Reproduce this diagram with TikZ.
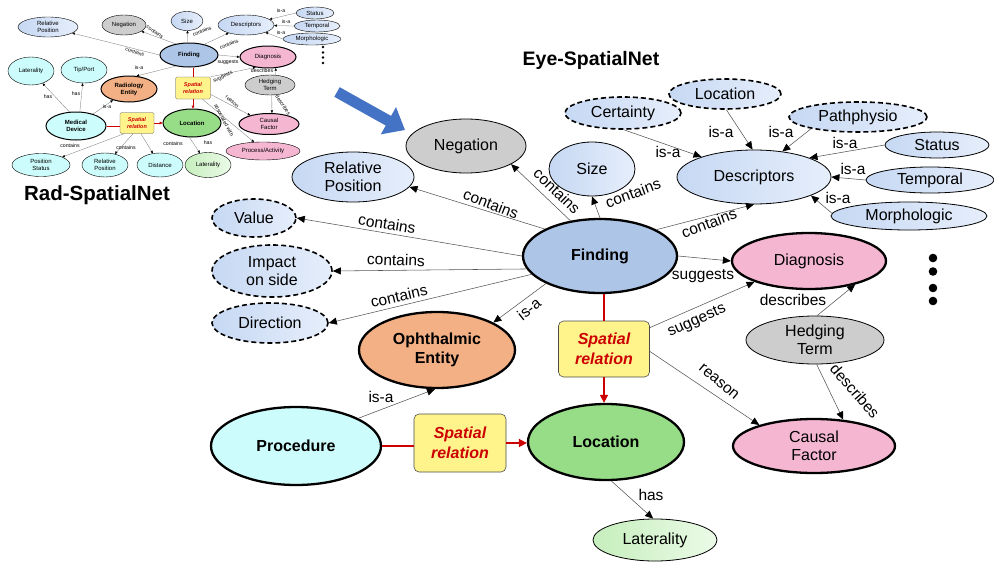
\documentclass[tikz,border=0pt]{standalone}
\usepackage{fontspec}
\setmainfont{Liberation Sans}
\usetikzlibrary{shapes.geometric,arrows.meta}

\definecolor{findC}{HTML}{ADC5E7}
\definecolor{grayC}{HTML}{CDCDCD}
\definecolor{pinkC}{HTML}{F5B6D2}
\definecolor{orangeC}{HTML}{F3B084}
\definecolor{greenC}{HTML}{97DC87}
\definecolor{latA}{HTML}{C6EEBD}
\definecolor{latB}{HTML}{EBFBE7}
\definecolor{cyanC}{HTML}{CCFCFC}
\definecolor{yellowC}{HTML}{FFF38C}
\definecolor{redC}{HTML}{CC0000}
\definecolor{blueA}{HTML}{C6D8F3}
\definecolor{blueB}{HTML}{E6EEFB}
\definecolor{arrowBlue}{HTML}{4472C4}
\definecolor{lineC}{HTML}{555555}

\tikzset{
  oval/.style={ellipse, draw=black, line width=0.8pt, inner sep=0pt, align=center,
    font=\fontsize{16}{18.5}\selectfont},
  heavy/.style={line width=2.3pt, font=\fontsize{16}{18.5}\selectfont\bfseries},
  dashy/.style={dash pattern=on 5pt off 3pt, line width=1.6pt},
  paleblue/.style={left color=blueA, right color=blueB},
  palegreen/.style={left color=latA, right color=latB},
  relbox/.style={rectangle, rounded corners=5pt, draw=black!70, line width=0.6pt,
    fill=yellowC, text=redC, align=center, inner sep=0pt,
    font=\fontsize{16}{19.5}\selectfont\bfseries\itshape},
  conn/.style={draw=lineC, line width=0.55pt,
    -{Triangle[length=8pt,width=7pt,color=black]}},
  redline/.style={draw=redC, line width=1.6pt},
  redarrow/.style={redline, -{Triangle[length=8pt,width=8pt]}},
  lbl/.style={font=\fontsize{15.5}{17}\selectfont, inner sep=0.5pt},
  % small overview diagram
  soval/.style={ellipse, draw=black, line width=0.4pt, inner sep=0pt, align=center,
    font=\fontsize{6}{7}\selectfont},
  sheavy/.style={line width=1pt, font=\fontsize{6}{7}\selectfont\bfseries},
  srelbox/.style={rectangle, rounded corners=1.5pt, draw=black!70, line width=0.3pt,
    fill=yellowC, text=redC, align=center, inner sep=0pt,
    font=\fontsize{5.5}{6.5}\selectfont\bfseries\itshape},
  sconn/.style={draw=black!55, line width=0.3pt,
    -{Triangle[length=2.6pt,width=2.3pt,color=black]}},
  sred/.style={draw=redC, line width=0.6pt},
  sredarrow/.style={sred, -{Triangle[length=2.8pt,width=2.8pt]}},
  slbl/.style={font=\fontsize{5.2}{6}\selectfont, inner sep=0.3pt},
  title/.style={font=\fontsize{20.5}{23}\selectfont\bfseries},
}

\begin{document}
\begin{tikzpicture}[x=1pt,y=-1pt]
\useasboundingbox (0,0) rectangle (994,562);

%% ---------------- Rad-SpatialNet overview ----------------
\node[soval, paleblue, minimum width=60, minimum height=20] (srp) at (48,27) {Relative\\Position};
\node[soval, fill=grayC, minimum width=44, minimum height=20] (sng) at (124,25) {Negation};
\node[soval, paleblue, minimum width=32, minimum height=19] (ssz) at (187,21) {Size};
\node[soval, paleblue, minimum width=56, minimum height=20] (sds) at (246,25) {Descriptors};
\node[soval, paleblue, minimum width=38, minimum height=12] (sst) at (315,13) {Status};
\node[soval, paleblue, minimum width=46, minimum height=12] (stp) at (317,26) {Temporal};
\node[soval, paleblue, minimum width=58, minimum height=12] (smo) at (312,39) {Morphologic};
\node[soval, sheavy, fill=findC, minimum width=58, minimum height=24] (sf) at (189,55) {Finding};
\node[soval, sheavy, fill=pinkC, font=\fontsize{6}{7}\selectfont, minimum width=56, minimum height=22] (sdg) at (268,57) {Diagnosis};
\node[soval, fill=cyanC, minimum width=46, minimum height=28] (slat) at (31,71) {Laterality};
\node[soval, fill=cyanC, minimum width=46, minimum height=26] (stip) at (84,70) {Tip/Port};
\node[soval, sheavy, fill=orangeC, minimum width=56, minimum height=26] (srad) at (129,89) {Radiology\\Entity};
\node[srelbox, minimum width=35, minimum height=22] (ssp1) at (193,88) {Spatial\\relation};
\node[soval, fill=grayC, minimum width=50, minimum height=20] (shd) at (270,85) {Hedging\\Term};
\node[soval, sheavy, fill=cyanC, minimum width=60, minimum height=28] (smd) at (76,126) {Medical\\Device};
\node[srelbox, minimum width=34, minimum height=21] (ssp2) at (137,123) {Spatial\\relation};
\node[soval, sheavy, fill=greenC, minimum width=58, minimum height=28] (sloc) at (192,123) {Location};
\node[soval, sheavy, fill=pinkC, font=\fontsize{6}{7}\selectfont, minimum width=60, minimum height=21] (scf) at (269,124) {Causal\\Factor};
\node[soval, fill=pinkC, minimum width=74, minimum height=18] (spa) at (263,151) {Process/Activity};
\node[soval, fill=cyanC, minimum width=58, minimum height=23] (sps) at (41,165) {Position\\Status};
\node[soval, fill=cyanC, minimum width=46, minimum height=24] (srp2) at (105,165) {Relative\\Position};
\node[soval, fill=cyanC, minimum width=46, minimum height=24] (sdi) at (160,165) {Distance};
\node[soval, palegreen, minimum width=46, minimum height=25] (slt2) at (208,165) {Laterality};
\foreach \yy [count=\k] in {47,52.5,57.5,63}
  \fill (323,\yy) circle (1.3) coordinate (sdot\k);

\draw[sconn] (sf.west) -- (srp) node[slbl, rotate=-18] (sl1) at (135,52) {contains};
\draw[sconn] (sf.140) -- (sng) node[slbl, rotate=-35] (sl2) at (155,32) {contains};
\draw[sconn] (sf.95) -- (ssz) node[slbl, rotate=22] (sl3) at (202,31) {contains};
\draw[sconn] (sf.35) -- (sds) node[slbl, rotate=22] (sl4) at (229,44) {contains};
\draw[sconn] (sst.west) -- (sds) node[slbl] (sl5) at (281,11) {is-a};
\draw[sconn] (stp.west) -- (sds) node[slbl] (sl6) at (286,22) {is-a};
\draw[sconn] (smo.west) -- (sds) node[slbl] (sl7) at (281,33) {is-a};
\draw[sconn] (sf.east) -- (sdg.west) node[slbl] (sl8) at (228,62) {suggests};
\draw[sconn] (sf.220) -- (srad.60) node[slbl] (sl9) at (139,68) {is-a};
\draw[sred] (sf.south -| ssp1.north) -- (ssp1.north);
\draw[sconn] (ssp1.north east) -- (sdg.220) node[slbl, rotate=25] (sl10) at (223,77) {suggests};
\draw[sconn] (shd.60) -- (sdg.-55) node[slbl] (sl11) at (262,71) {describes};
\draw[sredarrow] (ssp1.south) -- (ssp1.south |- sloc.north);
\draw[sconn] (ssp1.-20) -- (scf.155) node[slbl, rotate=-40] (sl12) at (232,102) {reason};
\draw[sconn] (ssp1.-50) -- (spa.135) node[slbl, rotate=-62] (sl13) at (224,120) {associated with};
\draw[sconn] (shd.-80) -- (scf.75) node[slbl, rotate=-55] (sl14) at (283,105) {describes};
\draw[sconn] (smd.115) -- (slat) node[slbl] (sl15) at (48,97) {has};
\draw[sconn] (smd.75) -- (stip) node[slbl] (sl16) at (76,94) {has};
\draw[sconn] (smd.35) -- (srad) node[slbl] (sl17) at (107,107) {is-a};
\draw[sred] (smd.east) -- (smd.east -| ssp2.west);
\draw[sredarrow] (ssp2.east) -- (ssp2.east -| sloc.west);
\draw[sconn] (ssp2.-140) -- (sps) node[slbl] (sl18) at (70,146) {contains};
\draw[sconn] (ssp2.-110) -- (srp2) node[slbl] (sl19) at (126,148) {contains};
\draw[sconn] (ssp2.-70) -- (sdi) node[slbl] (sl20) at (173,144) {contains};
\draw[sconn] (sloc.-100) -- (slt2) node[slbl] (sl21) at (208,143) {has};

\node[title] (radtitle) at (97,195) {Rad-SpatialNet};

%% ---------------- arrow between the two networks ----------------
\coordinate (bluefrom) at (337,92);
\coordinate (blueto) at (405,130);
\draw[arrowBlue, line width=11pt, -{Triangle[length=19pt,width=30pt]}] (bluefrom) -- (blueto);

%% ---------------- Eye-SpatialNet ----------------
\node[title, font=\fontsize{19.5}{22}\selectfont\bfseries] (eyetitle) at (591,60) {Eye-SpatialNet};

\node[oval, fill=grayC, minimum width=120, minimum height=54] (neg) at (466,146) {Negation};
\node[oval, paleblue, minimum width=122, minimum height=50] (relp) at (353,177) {Relative\\Position};
\node[oval, paleblue, minimum width=86, minimum height=54] (size) at (592,169) {Size};
\node[oval, paleblue, dashy, minimum width=116, minimum height=32] (cert) at (623,113) {Certainty};
\node[oval, paleblue, dashy, minimum width=112, minimum height=30] (locd) at (725,94) {Location};
\node[oval, paleblue, dashy, minimum width=138, minimum height=30] (pp) at (858,117) {Pathphysio};
\node[oval, paleblue, minimum width=104, minimum height=26] (sta) at (937,145) {Status};
\node[oval, paleblue, minimum width=128, minimum height=26] (tmp) at (930,180) {Temporal};
\node[oval, paleblue, minimum width=156, minimum height=28] (mor) at (909,216) {Morphologic};
\node[oval, paleblue, minimum width=154, minimum height=54] (desc) at (754,177) {Descriptors};
\node[oval, heavy, fill=findC, minimum width=154, minimum height=74] (fnd) at (600,256) {Finding};
\node[oval, line width=2.3pt, fill=pinkC, minimum width=154, minimum height=56] (diag) at (809,261) {Diagnosis};
\node[oval, paleblue, dashy, minimum width=84, minimum height=38] (val) at (254,218) {Value};
\node[oval, paleblue, dashy, minimum width=120, minimum height=52] (imp) at (272,271) {Impact\\on side};
\node[oval, paleblue, dashy, minimum width=116, minimum height=40] (dir) at (270,323) {Direction};
\node[oval, heavy, fill=orangeC, minimum width=156, minimum height=76] (oph) at (437,350) {Ophthalmic\\Entity};
\node[relbox, minimum width=91, minimum height=56] (sp) at (604,349) {Spatial\\relation};
\node[oval, fill=grayC, minimum width=138, minimum height=48] (hed) at (815,340) {Hedging\\Term};
\node[oval, line width=2.3pt, fill=pinkC, minimum width=162, minimum height=54] (cau) at (814,446) {Causal\\Factor};
\node[oval, heavy, fill=cyanC, minimum width=170, minimum height=78] (proc) at (296,446) {Procedure};
\node[relbox, minimum width=92, minimum height=58] (sp2) at (460,443) {Spatial\\relation};
\node[oval, heavy, fill=greenC, minimum width=156, minimum height=76] (loc) at (606,442) {Location};
\node[oval, palegreen, minimum width=124, minimum height=42] (lat) at (655,540) {Laterality};
\foreach \yy [count=\k] in {258,271.5,288,301}
  \fill (933,\yy) circle (4.3) coordinate (dot\k);

% contains / is-a links of Finding
\draw[conn] (fnd.154) -- (relp.-10) node[lbl, rotate=-21] (c1) at (491,204) {contains};
\draw[conn] (fnd.130) -- (neg.-22) node[lbl, rotate=-44] (c2) at (557,191) {contains};
\draw[conn] (fnd.north) -- (size.south) node[lbl, rotate=20] (c3) at (633,193) {contains};
\draw[conn] (fnd.25) -- (desc.south) node[lbl, rotate=20] (c4) at (709,223) {contains};
\draw[conn] (fnd.west) -- (val.east) node[lbl, rotate=-9] (c5) at (387,224) {contains};
\draw[conn] (fnd.190) -- (imp.east) node[lbl, rotate=-2] (c6) at (396,260) {contains};
\draw[conn] (fnd.195) -- (dir.east) node[lbl, rotate=13] (c7) at (399,296) {contains};
\draw[conn] (fnd.207) -- (oph.26) node[lbl, rotate=38] (c8) at (529,309) {is-a};
\draw[conn] (fnd.east) -- (diag.west) node[lbl] (c9) at (703,276) {suggests};

% descriptor types
\draw[conn] (cert.-87) -- (desc.159) node[lbl] (d1) at (668,152) {is-a};
\draw[conn] (locd.-85) -- (desc.93) node[lbl] (d2) at (721,132) {is-a};
\draw[conn] (pp.194) -- (desc.42) node[lbl] (d3) at (781,132) {is-a};
\draw[conn] (sta.west) -- (desc.19) node[lbl] (d4) at (845,143) {is-a};
\draw[conn] (tmp.west) -- (desc.east) node[lbl] (d5) at (853,169) {is-a};
\draw[conn] (mor.178) -- (desc.-18) node[lbl] (d6) at (838,198) {is-a};

% spatial relation of a finding
\draw[redline] (fnd.south -| sp.north) -- (sp.north);
\draw[redarrow] (sp.south) -- (sp.south |- loc.north);
\draw[conn] (sp.25) -- (diag.201) node[lbl, rotate=24] (e1) at (697,321) {suggests};
\draw[conn] (sp.-3) -- (cau.159) node[lbl, rotate=-40] (e2) at (719,382) {reason};
\draw[conn] (hed.85) -- (diag.-27) node[lbl] (e3) at (793,300) {describes};
\draw[conn] (hed.-86) -- (cau.42) node[lbl, rotate=-49] (e4) at (855,391) {describes};

% spatial relation of a procedure
\draw[conn] (proc.24) -- (oph.-93) node[lbl] (e5) at (381,397) {is-a};
\draw[redline] (proc.east) -- (proc.east -| sp2.west);
\draw[redarrow] (sp2.east) -- (sp2.east -| loc.west);
\draw[conn] (loc.-82) -- (lat.95) node[lbl] (e6) at (651,495) {has};

\end{tikzpicture}
\end{document}
